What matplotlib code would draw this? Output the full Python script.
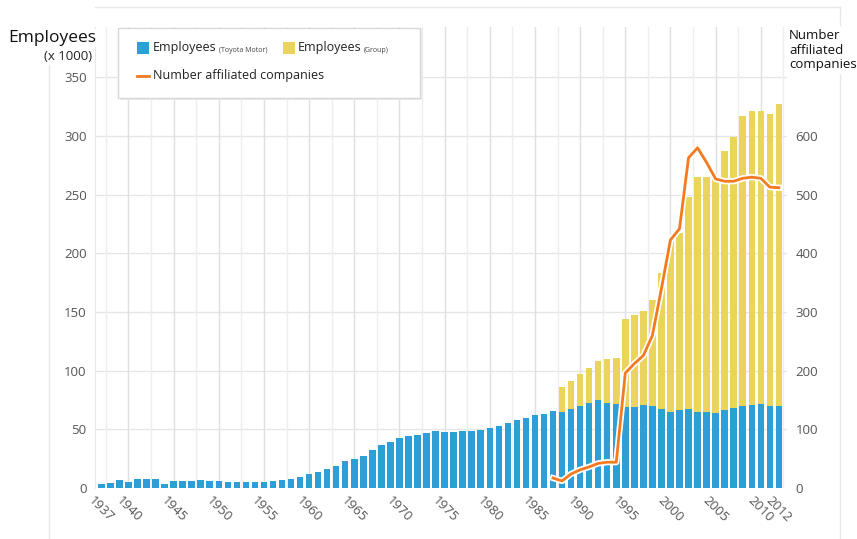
import matplotlib.pyplot as plt
import matplotlib.patheffects as pe
from matplotlib.patches import Rectangle
from matplotlib.lines import Line2D
import numpy as np

# Toyota employees (x1000), 1937-2012
years = list(range(1937, 2013))
toyota_emp = [3.5, 4.5, 6.5,
              4.7, 7.4, 7.4, 7.4, 3.8, 6.3, 5.8, 6.3, 7.2, 6.3,
              5.6, 5.5, 5.5, 5.5, 5.5, 5.5, 6.3, 6.5, 7.8, 9.5,
              12, 14, 16, 18.5, 23, 25, 27.5, 32, 36.5, 39.5,
              43, 44, 45, 46.6, 48.6, 47.5, 47.5, 48.4, 48.4, 49.5,
              50.9, 52.9, 55.7, 57.7, 59.4, 62, 63, 65.7, 64.8, 67.5,
              70.3, 72.2, 75, 72.2, 71.7, 69.4, 68.8, 70.5, 70, 67.3,
              65.1, 66.3, 67.1, 65.1, 65.1, 64.3, 66.3, 68, 70, 70.8,
              71.7, 70, 70]

# group employees (x1000), 1988-2012
group_years = list(range(1988, 2013))
group_emp = [86, 91.5, 97, 102, 108.5, 110, 110.5,
             144, 147.5, 151, 160, 183.5,
             211, 217, 248, 265, 265, 265, 287, 299, 317, 321.5, 321.5, 318.5, 327]

# number of affiliated companies, 1987-2012
aff_years = list(range(1987, 2013))
affiliated = [17, 12, 24, 31, 36, 42, 44, 44,
              196, 212, 226, 260, 340,
              423, 442, 563, 580, 555, 527, 523, 523, 528, 530, 528, 513, 512]

xlabels = [1937] + list(range(1940, 2011, 5)) + [2012]

BLUE = '#2c9fd6'
YELLOW = '#ead45c'
ORANGE = '#f47a20'
TICK = '#555555'

plt.rcParams['font.family'] = ['Open Sans', 'DejaVu Sans']

W, H = 857, 539
fig = plt.figure(figsize=(W / 100, H / 100), dpi=100)


def px(x, y):
    return x / W, 1 - y / H


# faint frame of the original screenshot
for xs, ys in [((49, 49), (65, 539)), ((95, 840), (7, 7)), ((840, 840), (7, 539))]:
    fig.add_artist(Line2D([x / W for x in xs], [1 - y / H for y in ys],
                          color='#e8e8e8', lw=1, transform=fig.transFigure))

ax = fig.add_axes([95 / W, 51 / H, 692 / W, 461 / H])
ax2 = ax.twinx()

ax.bar(group_years, group_emp, width=0.72, color=YELLOW, zorder=2)
ax.bar(years, toyota_emp, width=0.72, color=BLUE, zorder=3)

ax2.plot(aff_years, affiliated, color=ORANGE, lw=2, solid_joinstyle='round',
         path_effects=[pe.Stroke(linewidth=4.5, foreground='white'), pe.Normal()])

ax.set_xlim(1936.3, 2012.9)
ax.set_ylim(0, 393)
ax2.set_ylim(0, 786)

# grid lines
for y in range(0, 351, 50):
    ax.axhline(y, color='#e6e6e6', lw=1, zorder=0)
for x in np.arange(1937.5, 2013, 2.5):
    c = '#e0e0e0' if x % 5 == 0 else '#eeeeee'
    ax.axvline(x, color=c, lw=1, zorder=0)

ax.set_yticks(range(0, 351, 50))
ax2.set_yticks(range(0, 601, 100))
ax.set_xticks(xlabels)
ax.set_xticklabels([str(x) for x in xlabels], rotation=-45, ha='center', va='top')

ax.tick_params(axis='y', length=0, pad=6, labelsize=9.5, labelcolor=TICK)
ax.tick_params(axis='x', length=0, pad=4, labelsize=9.5, labelcolor=TICK)
ax2.tick_params(axis='y', length=0, pad=6, labelsize=9.5, labelcolor=TICK)

for a in (ax, ax2):
    for s in a.spines.values():
        s.set_visible(False)
ax.spines['left'].set_visible(True)
ax.spines['left'].set_color('#e8e8e8')

# axis titles
fig.text(*px(8, 38), 'Employees', fontsize=12.5, ha='left', va='center', color='#111111',
         bbox=dict(facecolor='white', edgecolor='none', pad=1))
fig.text(*px(92, 57), '(x 1000)', fontsize=9.5, ha='right', va='center', color='#222222')
fig.text(*px(789, 50), 'Number\naffiliated\ncompanies', fontsize=9.5, ha='left', va='center',
         color='#111111', linespacing=1.15,
         bbox=dict(facecolor='white', edgecolor='none', pad=2))

# legend box
fig.add_artist(Rectangle(px(120, 100), 302 / W, 70 / H, transform=fig.transFigure,
                         facecolor='#ececec', edgecolor='none', zorder=5))
fig.add_artist(Rectangle(px(118, 98), 302 / W, 70 / H, transform=fig.transFigure,
                         facecolor='white', edgecolor='#d8d8d8', lw=1, zorder=6))
fig.add_artist(Rectangle(px(137, 54), 12 / W, 12 / H, transform=fig.transFigure,
                         facecolor=BLUE, edgecolor='none', zorder=7))
fig.add_artist(Rectangle(px(283, 54), 12 / W, 12 / H, transform=fig.transFigure,
                         facecolor=YELLOW, edgecolor='none', zorder=7))
fig.add_artist(Line2D([137 / W, 149 / W], [1 - 76 / H, 1 - 76 / H], color=ORANGE, lw=2,
                      transform=fig.transFigure, zorder=7))
fig.text(*px(153, 48), 'Employees', fontsize=9, va='center', color='#222222', zorder=8)
fig.text(*px(219, 50), '(Toyota Motor)', fontsize=5, va='center', color='#444444', zorder=8)
fig.text(*px(298, 48), 'Employees', fontsize=9, va='center', color='#222222', zorder=8)
fig.text(*px(364, 50), '(Group)', fontsize=5, va='center', color='#444444', zorder=8)
fig.text(*px(153, 76), 'Number affiliated companies', fontsize=9, va='center',
         color='#222222', zorder=8)

fig.savefig('out.png', dpi=100)
